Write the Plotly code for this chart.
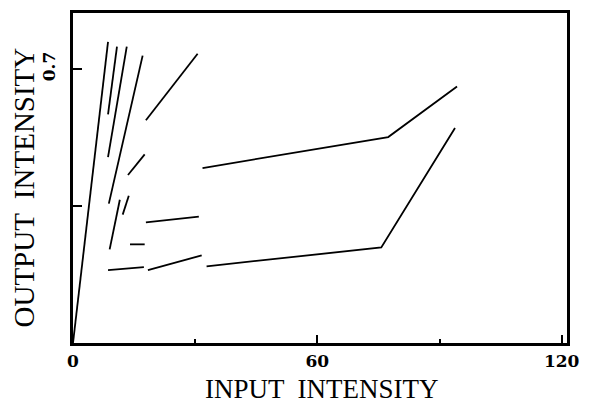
import plotly.graph_objects as go

# Segment data (input intensity, output intensity)
seg_x = [
    [0.0, 8.6],
    [10.8, 8.6],
    [13.2, 8.6],
    [17.1, 8.8],
    [11.5, 9.0],
    [13.7, 12.2],
    [17.6, 13.5],
    [17.9, 30.6],
    [14.0, 17.6],
    [17.9, 30.9],
    [8.6, 17.4],
    [18.4, 31.6],
    [32.8, 75.7, 93.8],
    [31.8, 77.4, 94.3],
]
seg_y = [
    [0.0, 0.769],
    [0.757, 0.584],
    [0.757, 0.475],
    [0.734, 0.356],
    [0.366, 0.239],
    [0.376, 0.328],
    [0.482, 0.429],
    [0.569, 0.739],
    [0.252, 0.252],
    [0.308, 0.323],
    [0.186, 0.194],
    [0.186, 0.224],
    [0.196, 0.244, 0.549],
    [0.447, 0.526, 0.655],
]

x_tickvals = [0, 60, 120]
x_ticktext = ["0", "60", "120"]
x_minor = [30, 90]
y_tickvals = [0.35, 0.7]
y_ticktext = ["", "0.7"]

fig = go.Figure()
for xs, ys in zip(seg_x, seg_y):
    fig.add_trace(go.Scatter(x=xs, y=ys, mode="lines",
                             line=dict(color="black", width=1.8),
                             showlegend=False, hoverinfo="skip"))

tickfont = dict(family="DejaVu Serif", size=17, color="black", weight="bold")

fig.update_layout(
    width=590, height=410,
    margin=dict(l=73, r=21, t=10, b=67),
    paper_bgcolor="white", plot_bgcolor="white",
    xaxis=dict(range=[0, 121.3], showline=True, mirror=True, linewidth=3,
               linecolor="black", showgrid=False, zeroline=False,
               ticks="inside", tickvals=x_tickvals, ticktext=x_ticktext,
               ticklen=8, tickwidth=1.5, tickcolor="black", tickfont=tickfont,
               ticklabelstandoff=1,
               minor=dict(tickvals=x_minor, ticks="inside", ticklen=4,
                          tickwidth=1.5, tickcolor="black", showgrid=False)),
    yaxis=dict(range=[0, 0.843], showline=True, mirror=True, linewidth=3,
               linecolor="black", showgrid=False, zeroline=False,
               ticks="inside", tickvals=y_tickvals, ticktext=y_ticktext,
               ticklen=9, tickwidth=1.5, tickcolor="black", tickfont=tickfont,
               tickangle=-90, ticklabelstandoff=8),
    annotations=[
        dict(text="INPUT  INTENSITY", xref="paper", yref="paper",
             x=0.504, y=-0.14, xanchor="center", yanchor="middle",
             showarrow=False,
             font=dict(family="Liberation Serif", size=27, color="black")),
        dict(text="OUTPUT  INTENSITY", xref="paper", yref="paper",
             x=-0.1, y=0.47, xanchor="center", yanchor="middle",
             textangle=-90, showarrow=False,
             font=dict(family="Liberation Serif", size=29, color="black")),
    ],
)

fig.write_html("out.html")
